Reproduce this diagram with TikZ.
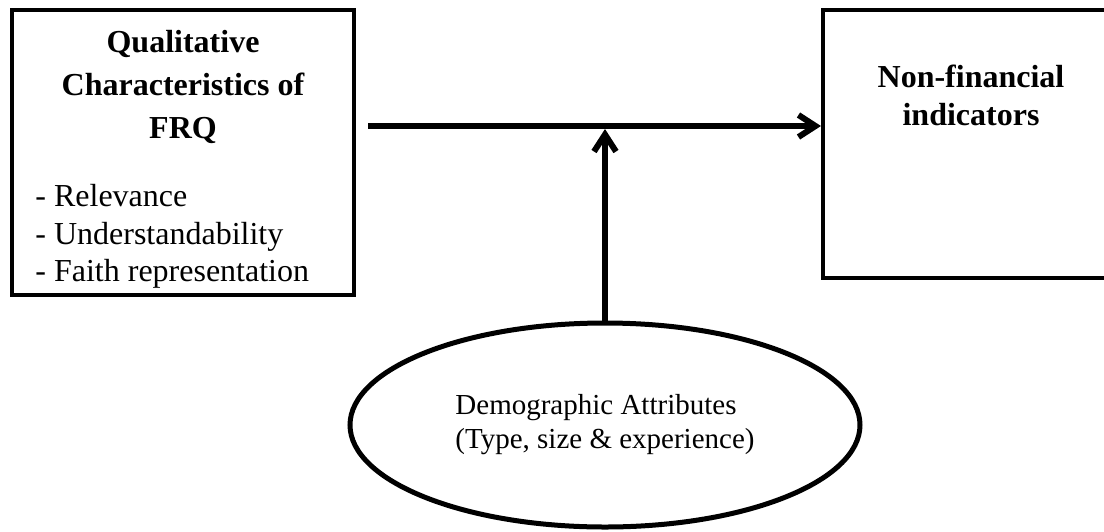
\documentclass[tikz,border=0pt]{standalone}
\usepackage{fontspec}
\setmainfont{Liberation Serif}
\usetikzlibrary{positioning}
\usetikzlibrary{shapes.geometric}
\usetikzlibrary{arrows.meta}

\begin{document}
\begin{tikzpicture}[x=0.5pt, y=-0.5pt,
  box/.style={draw, line width=2pt, inner sep=0},
  arr/.style={line width=3pt, -{Straight Barb[length=8.5pt,width=11pt]}}]

  \useasboundingbox (0,0) rectangle (1104,531);
  \clip (0,0) rectangle (1104,531);

  % box FRQ
  \node[box, minimum width=171pt, minimum height=142.5pt] (frq) at (183,152.5) {};
  \node[anchor=north, align=center, inner sep=0, font=\fontsize{16}{21.5}\selectfont\bfseries] (frqhead) at (183,30) {Qualitative\\Characteristics of\\FRQ};
  \node[anchor=north west, align=left, inner sep=0, font=\fontsize{16}{18.75}\selectfont] (frqlist) at (35,184) {- Relevance\\- Understandability\\- Faith representation};

  % box non-financial indicators
  \node[box, minimum width=147pt, minimum height=134pt] (nfi) at (970,144) {};
  \node[anchor=north, align=center, inner sep=0, font=\fontsize{16}{19}\selectfont\bfseries] (nfihead) at (971,65) {Non-financial\\indicators};

  % ellipse
  \node[draw, ellipse, line width=2.5pt, minimum width=255pt, minimum height=102pt, align=left, font=\fontsize{14.5}{17}\selectfont] (dem) at (605,425) {Demographic Attributes\\(Type, size \& experience)};

  % arrows
  \coordinate (src) at (368,126);
  \draw[arr] (src) -- (src -| nfi.west);
  \draw[arr] (dem.north) -- ([yshift=-1.5pt]dem.north |- src);
\end{tikzpicture}
\end{document}
